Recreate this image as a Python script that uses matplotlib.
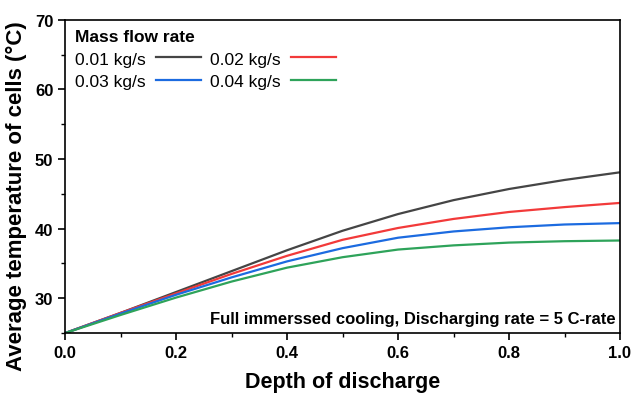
import matplotlib
matplotlib.use("Agg")
import matplotlib.pyplot as plt
from matplotlib.ticker import MultipleLocator

plt.rcParams['font.family'] = ['Liberation Sans', 'DejaVu Sans']

depth = [0.0, 0.1, 0.2, 0.3, 0.4, 0.5, 0.6, 0.7, 0.8, 0.9, 1.0]
temp_001 = [25.0, 27.9, 30.9, 33.9, 36.9, 39.7, 42.1, 44.1, 45.7, 47.0, 48.1]
temp_002 = [25.0, 27.9, 30.7, 33.5, 36.1, 38.4, 40.1, 41.4, 42.4, 43.1, 43.7]
temp_003 = [25.0, 27.8, 30.5, 33.0, 35.3, 37.2, 38.7, 39.6, 40.2, 40.6, 40.8]
temp_004 = [25.0, 27.6, 30.1, 32.4, 34.4, 35.9, 37.0, 37.6, 38.0, 38.2, 38.3]

labels = ['0.01 kg/s', '0.02 kg/s', '0.03 kg/s', '0.04 kg/s']
colors = ['#454545', '#f23a3a', '#1c6be0', '#2ea35a']

fig = plt.figure(figsize=(6.32, 4.02), dpi=100)
ax = fig.add_axes([0.103, 0.169, 0.878, 0.779])

lines = []
for y, lab, c in zip([temp_001, temp_002, temp_003, temp_004], labels, colors):
    ln, = ax.plot(depth, y, color=c, lw=1.6, label=lab)
    lines.append(ln)

ax.set_xlim(0, 1.0)
ax.set_ylim(25, 70)
ax.xaxis.set_major_locator(MultipleLocator(0.2))
ax.xaxis.set_minor_locator(MultipleLocator(0.1))
ax.yaxis.set_major_locator(MultipleLocator(10))
ax.yaxis.set_minor_locator(MultipleLocator(5))
ax.tick_params(which='major', direction='out', length=5, width=1.2, labelsize=12)
ax.tick_params(which='minor', direction='out', length=3, width=1.0)
for lab in ax.get_xticklabels() + ax.get_yticklabels():
    lab.set_fontweight('bold')
for s in ax.spines.values():
    s.set_linewidth(1.2)

ax.set_xlabel('Depth of discharge', fontsize=15.5, fontweight='bold', labelpad=8)
ax.set_ylabel('Average temperature of cells (\u00b0C)', fontsize=16, fontweight='bold', labelpad=6)
ax.yaxis.set_label_coords(-0.068, 0.44)

# legend filled row by row: 0.01 / 0.02 on top, 0.03 / 0.04 below
order = [0, 2, 1, 3]
leg = ax.legend([lines[i] for i in order], [labels[i] for i in order],
                loc='upper left', ncol=2, frameon=False, markerfirst=False,
                title='Mass flow rate', fontsize=12.5, handlelength=2.6,
                columnspacing=0.5, handletextpad=0.6, labelspacing=0.4,
                borderaxespad=0.15, alignment='left')
leg.get_title().set_fontweight('bold')
leg.get_title().set_fontsize(12.5)

ax.text(0.993, 0.022, 'Full immerssed cooling, Discharging rate = 5 C-rate',
        transform=ax.transAxes, ha='right', va='bottom', fontsize=12, fontweight='bold')

fig.savefig('out.png', dpi=100)
